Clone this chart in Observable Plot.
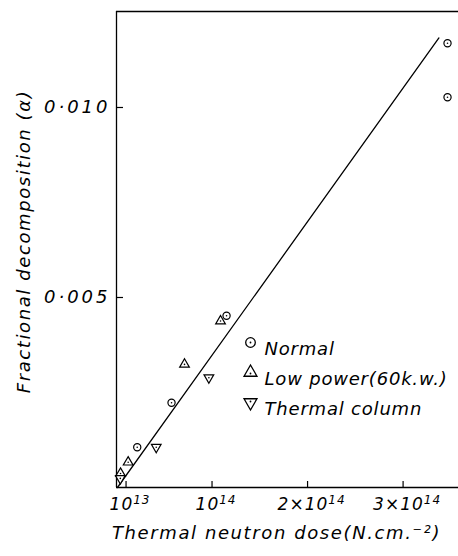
<!DOCTYPE html>
<html>
<head>
<meta charset="utf-8">
<script src="https://cdn.jsdelivr.net/npm/d3@7"></script>
<script src="https://cdn.jsdelivr.net/npm/@observablehq/plot@0.6"></script>
<style>
  html, body { margin: 0; padding: 0; background: white; }
  #chart svg { display: block; }
</style>
</head>
<body>
<div id="chart"></div>
<script>
// ---- data ----
const normalX = [0.217e14, 0.576e14, 1.152e14, 3.465e14, 3.465e14];
const normalY = [0.00106, 0.00223, 0.00452, 0.01169, 0.01027];
const lowX = [0.042e14, 0.122e14, 0.712e14, 1.089e14];
const lowY = [0.00037, 0.000666, 0.00324, 0.00438];
const thermX = [0.040e14, 0.416e14, 0.967e14];
const thermY = [0.00024, 0.00106, 0.00289];
const fitX = [0.01e14, 3.375e14];
const fitY = [0, 0.01183];

const xTicks = [1e13, 1e14, 2e14, 3e14];
const xTickBase = ["10", "10", "2×10", "3×10"];
const xTickExp = ["13", "14", "14", "14"];
const yTicks = [0.005, 0.010];
const yTickLabels = ["0·005", "0·010"];
const seriesNames = ["Normal", "Low power(60k.w.)", "Thermal column"];
const xTitle = "Thermal neutron dose(N.cm.⁻²)";
const yTitle = "Fractional decomposition (α)";
const xDomain = [0, 3.58e14];
const yDomain = [0, 0.012526];

// ---- build ----
const sqrt3 = Math.sqrt(3);
const invTriangle = {
  draw(context, size) {
    const y = -Math.sqrt(size / (sqrt3 * 3));
    context.moveTo(0, -y * 2);
    context.lineTo(-sqrt3 * y, y);
    context.lineTo(sqrt3 * y, y);
    context.closePath();
  }
};
const symbols = ["circle", "triangle", invTriangle];
const pts = (xs, ys) => xs.map((x, i) => ({x, y: ys[i]}));
const series = [pts(normalX, normalY), pts(lowX, lowY), pts(thermX, thermY)];
const fit = pts(fitX, fitY);
const xIdx = new Map(xTicks.map((t, i) => [t, i]));
const yLab = new Map(yTicks.map((t, i) => [t, yTickLabels[i]]));

const dataMarks = series.flatMap((s, k) => [
  Plot.dot(s, {x: "x", y: "y", symbol: () => symbols[k], r: 3.6, stroke: "black", strokeWidth: 1.2, fill: "white"}),
  Plot.dot(s, {x: "x", y: "y", r: 0.8, fill: "black", stroke: "none"})
]);

const legendMarks = seriesNames.flatMap((name, k) => [
  Plot.dot([name], {frameAnchor: "top-left", dx: 134, dy: 331 + k * 30, symbol: () => symbols[k], r: 4.8, stroke: "black", strokeWidth: 1.3, fill: "white"}),
  Plot.dot([name], {frameAnchor: "top-left", dx: 134, dy: 331 + k * 30 + (k === 1 ? 1 : k === 2 ? -1 : 0), r: 0.9, fill: "black"}),
  Plot.text([name], {frameAnchor: "top-left", dx: 148, dy: 331 + k * 30, text: d => d, textAnchor: "start", fontSize: 18, fill: "black", className: "legtext"})
]);

const chart = Plot.plot({
  width: 458,
  height: 556,
  marginLeft: 116,
  marginRight: 0,
  marginTop: 11,
  marginBottom: 69,
  style: {fontFamily: "DejaVu Sans", fontStyle: "italic", fontSize: "16px", background: "white", color: "black"},
  x: {domain: xDomain},
  y: {domain: yDomain},
  marks: [
    Plot.ruleX([xDomain[0]], {stroke: "black", strokeWidth: 1.3}),
    Plot.ruleY([yDomain[0]], {stroke: "black", strokeWidth: 1.3}),
    Plot.ruleY([yDomain[1]], {stroke: "black", strokeWidth: 1.3}),
    Plot.axisX(xTicks, {tickSize: -6, tickPadding: 16, tickFormat: d => String(xIdx.get(d)), label: null, fontSize: 17, strokeWidth: 1.2}),
    Plot.axisY(yTicks, {tickSize: -7, tickPadding: 13, tickFormat: d => yLab.get(d), label: null, fontSize: 18, strokeWidth: 1.2}),
    Plot.line(fit, {x: "x", y: "y", stroke: "black", strokeWidth: 1.3}),
    ...dataMarks,
    ...legendMarks,
    Plot.text([xTitle], {frameAnchor: "bottom", dx: -11, dy: 51, text: d => d, fontSize: 18, fill: "black"}),
    Plot.text([yTitle], {frameAnchor: "left", dx: -92, dy: -8, rotate: -90, textAnchor: "middle", text: d => d, fontSize: 18, fill: "black"})
  ]
});
document.getElementById("chart").appendChild(chart);

// letter spacing similar to hand lettering
d3.select(chart).selectAll("text").style("letter-spacing", "1.6px");
d3.select(chart).selectAll('g[aria-label="y-axis tick label"] text').style("letter-spacing", "3px");
d3.select(chart).selectAll(".legtext text").style("letter-spacing", "0.8px");

// x tick labels with raised exponent
d3.select(chart).selectAll('g[aria-label="x-axis tick label"] text').each(function () {
  const i = +this.textContent;
  const t = d3.select(this);
  t.text(null).style("letter-spacing", "1px").attr("dx", 4);
  t.append("tspan").text(xTickBase[i]);
  t.append("tspan").attr("dy", "-0.5em").attr("font-size", "12px").text(xTickExp[i]);
});
</script>
</body>
</html>
